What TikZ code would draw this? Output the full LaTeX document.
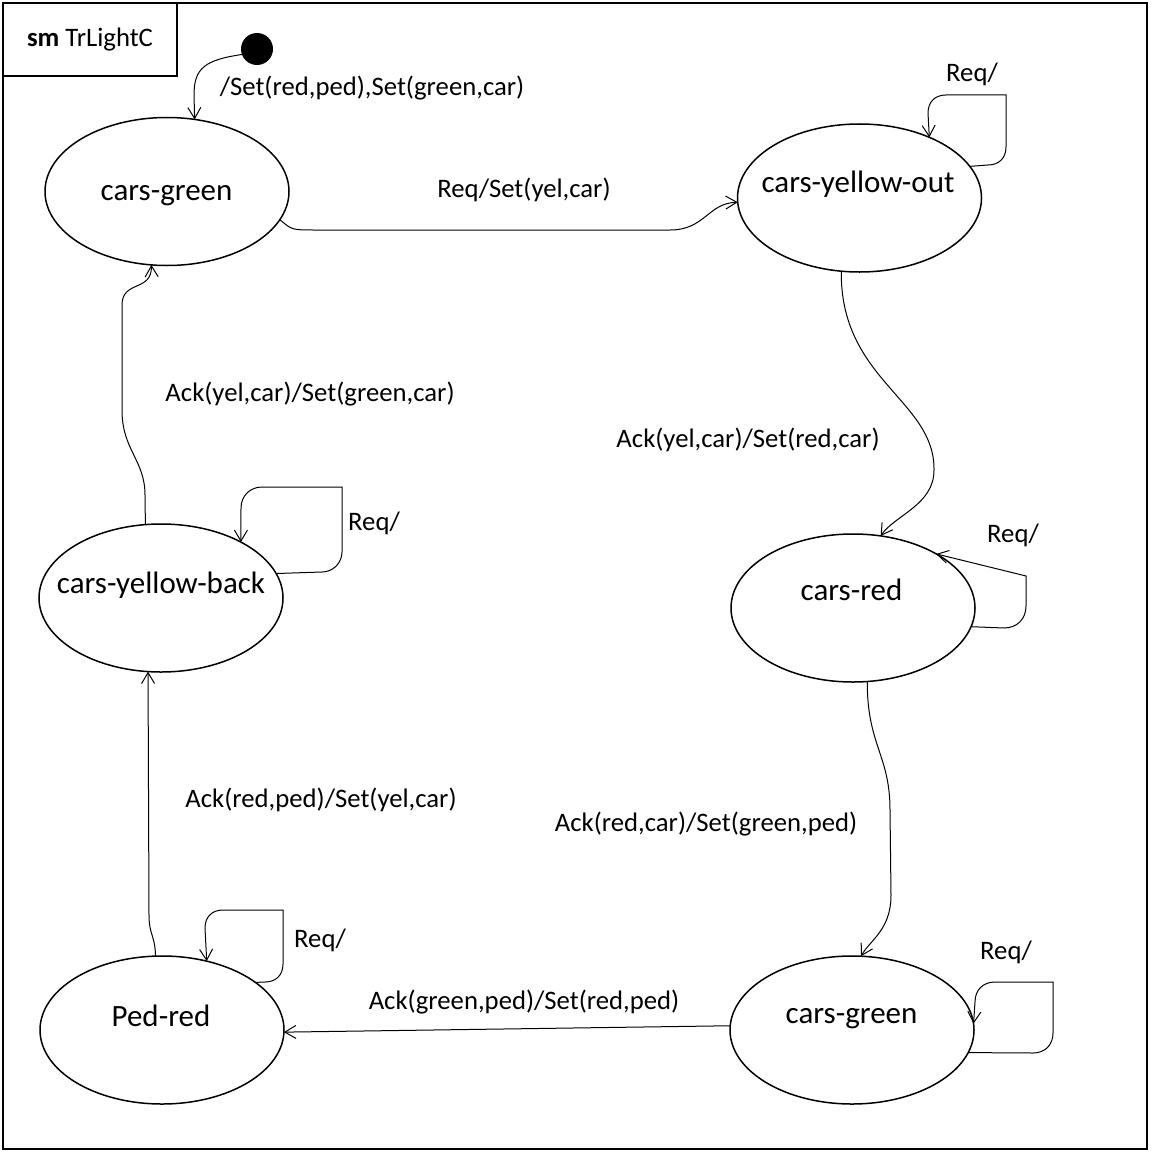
\documentclass[tikz,border=0pt]{standalone}
\usepackage{fontspec}
\setmainfont{Carlito}
\usetikzlibrary{arrows.meta,shapes.geometric}
\begin{document}
\begin{tikzpicture}[x=1pt,y=-1pt,
  state/.style={draw, ellipse, line width=1.5pt, minimum width=244pt, minimum height=148pt, inner sep=0pt, outer sep=0pt},
  stname/.style={anchor=base, font=\fontsize{31}{36}\selectfont, inner sep=0pt},
  lbl/.style={font=\fontsize{26.7}{32}\selectfont, inner sep=0pt},
  trans/.style={draw, line width=1pt, -{Straight Barb[length=11pt,width=13pt]}},
]
\useasboundingbox (0,0) rectangle (1151,1153);
\draw[line width=1.5pt] (3,3) rectangle (1147,1149);
\node[draw, line width=1.5pt, minimum width=174pt, minimum height=73pt, inner sep=0pt, outer sep=0pt, lbl] (title) at (90,39.5) {\textbf{sm} TrLightC};

% states
\node[state] (s1) at (167,191.5) {};
\node[stname] (n1) at (166.5,200) {cars-green};
\node[state] (s2) at (859.5,198) {};
\node[stname] (n2) at (858,192) {cars-yellow-out};
\node[state] (s3) at (853,608) {};
\node[stname] (n3) at (851.5,600.5) {cars-red};
\node[state] (s4) at (852,1030) {};
\node[stname] (n4) at (851.5,1023) {cars-green};
\node[state] (s5) at (162,1030) {};
\node[stname] (n5) at (161,1026) {Ped-red};
\node[state] (s6) at (161,598) {};
\node[stname] (n6) at (161,593) {cars-yellow-back};

\node[circle, fill=black, minimum size=32pt, inner sep=0pt, outer sep=0pt] (init) at (257,49) {};

% transitions
\draw[trans] (init.200) .. controls (205,60) and (194,68) .. (194,95) -- (s1.69);
\node[lbl] (l0) at (372,88) {/Set(red,ped),Set(green,car)};

\draw[trans] (s1.-14.7) .. controls (292,230) .. (315,230) -- (670,230) .. controls (705,230) and (708,203) .. (s2.182.4);
\node[lbl] (l1) at (524,190) {Req/Set(yel,car)};

\draw[trans] (s2.16.9) -- (988,165) .. controls (999,165) and (1006,158) .. (1006,147) -- (1006,95) -- (946,95) .. controls (935,95) and (928,102) .. (928,113) -- (s2.41.7);
\node[lbl] (l2) at (972,74) {Req/};

\draw[trans] (s2.256) .. controls (840,380) and (935,400) .. (934,470) .. controls (934,505) and (895,515) .. (s3.69.7);
\node[lbl] (l3) at (748,440) {Ack(yel,car)/Set(red,car)};

\draw[trans] (s3.-9.5) -- (1004,628) .. controls (1017,628) and (1026,619) .. (1026,606) -- (1026,576) -- (s3.33.2);
\node[lbl] (l4) at (1013,535) {Req/};

\draw[trans] (s3.-79.3) .. controls (867,745) and (890,755) .. (890,810) -- (891,895) .. controls (891,930) and (870,940) .. (s4.83.8);
\node[lbl] (l5) at (706,824) {Ack(red,car)/Set(green,ped)};

\draw[trans] (s4.-11) -- (1033,1053) .. controls (1045,1053) and (1053,1045) .. (1053,1033) -- (1053,982) -- (995,982) .. controls (983,982) and (975,990) .. (975,1002) -- (s4.3.3);
\node[lbl] (l6) at (1006,952) {Req/};

\draw[trans] (s4.178.1) -- (s5.-1.4);
\node[lbl] (l7) at (524,1002) {Ack(green,ped)/Set(red,ped)};

\draw[trans] (s5.27.3) -- (265,982) .. controls (276,982) and (283,975) .. (283,964) -- (283,910) -- (223,910) .. controls (212,910) and (205,917) .. (205,928) -- (s5.57.3);
\node[lbl] (l8) at (320,940) {Req/};

\draw[trans] (s5.95.4) .. controls (155,935) and (149,935) .. (149,915) -- (s6.260.8);
\node[lbl] (l9) at (321,800) {Ack(red,ped)/Set(yel,car)};

\draw[trans] (s6.12.6) -- (322,572) .. controls (333,572) and (342,563) .. (342,552) -- (342,487) -- (262,487) .. controls (250,487) and (241,496) .. (241,508) -- (s6.35.5);
\node[lbl] (l10) at (374,523) {Req/};

\draw[trans] (s6.102.4) -- (145,495) .. controls (145,460) and (122,450) .. (122,410) -- (122,305) .. controls (122,280) and (152,292) .. (s1.258.6);
\node[lbl] (l11) at (310,394) {Ack(yel,car)/Set(green,car)};
\end{tikzpicture}
\end{document}
